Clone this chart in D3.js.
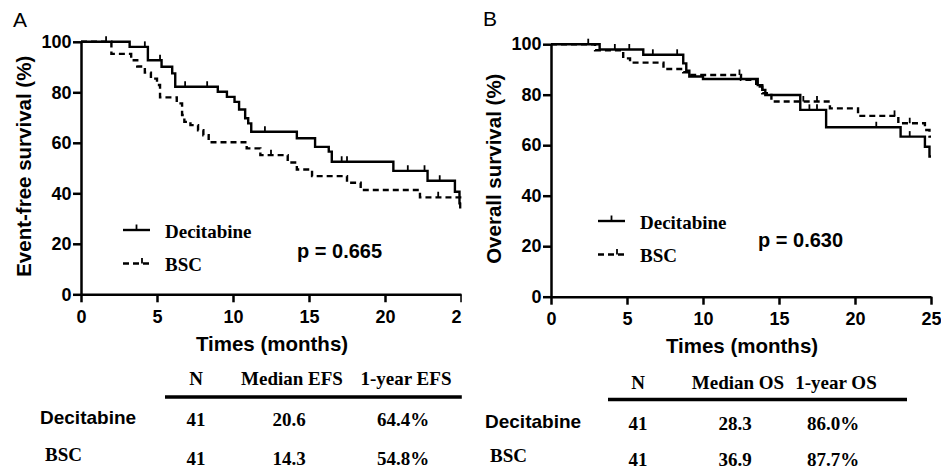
<!DOCTYPE html>
<html>
<head>
<meta charset="utf-8">
<script src="https://cdn.jsdelivr.net/npm/d3@7"></script>
<style>
  body { margin: 0; background: #fff; }
  svg { display: block; }
  .sans { font-family: "Liberation Sans", Arial, sans-serif; font-weight: bold; }
  .serif { font-family: "Liberation Serif", "Times New Roman", serif; font-weight: bold; }
</style>
</head>
<body>
<svg id="chart" width="941" height="470"></svg>
<script>
// survival steps: [month, percent]
var efsDecitabine = [[0,100],[3.2,98.0],[4.4,92.7],[5.3,90.1],[6.0,87.5],[6.2,82.2],[9.0,80.2],[9.6,78.2],[10.1,76.2],[10.4,73.2],[10.8,69.7],[11.0,67.7],[11.2,64.4],[14.2,61.8],[15.4,58.4],[16.3,56.5],[16.5,52.5],[20.55,48.9],[22.8,45.0],[24.6,40.6],[24.9,36.0],[25,36.0]];
var efsBsc = [[0,100],[2.0,95.2],[3.3,92.7],[3.7,90.2],[4.2,87.8],[4.6,85.4],[5.0,82.9],[5.2,78.0],[6.3,75.6],[6.65,71.0],[6.8,68.3],[7.2,67.0],[7.7,65.0],[8.05,63.0],[8.4,60.2],[10.9,57.8],[11.8,55.1],[13.6,52.2],[14.2,49.4],[15.2,46.8],[17.5,44.2],[18.4,41.3],[22.3,38.4],[24.95,32.8],[25,32.8]];
var osDecitabine = [[0,100],[3.2,97.9],[6.07,95.8],[8.7,92.4],[8.9,89.5],[9.1,87.2],[10.0,86.2],[13.6,83.8],[13.9,81.9],[14.1,79.9],[16.4,74.0],[18.1,67.1],[23.0,63.4],[24.6,59.4],[24.9,55.5],[25,55.5]];
var osBsc = [[0,100],[2.9,97.6],[4.75,94.4],[5.2,92.7],[7.4,90.2],[8.7,88.9],[9.0,87.8],[12.5,85.9],[13.5,83.2],[13.9,80.6],[14.5,77.3],[18.35,74.6],[20.2,71.6],[22.85,68.7],[24.6,66.0],[24.9,63.4],[25,63.4]];

// censor times (months)
var efsDecitabineCensor = [4.2, 5.2, 6.85, 8.3, 12.1, 17.15, 17.5, 21.5, 22.6, 23.6];
var efsBscCensor = [1.65, 12.5, 23.5];
var osDecitabineCensor = [4.2, 5.15, 6.7, 8.3, 17.0, 17.5, 21.4, 23.6];
var osBscCensor = [2.45, 12.4, 16.6, 17.5, 22.6, 23.6];

var xTicks = [0, 5, 10, 15, 20, 25];
var yTicks = [0, 20, 40, 60, 80, 100];
var groups = ["Decitabine", "BSC"];

var efsHeader = ["N", "Median EFS", "1-year EFS"];
var efsRows = [["41", "20.6", "64.4%"], ["41", "14.3", "54.8%"]];
var osHeader = ["N", "Median OS", "1-year OS"];
var osRows = [["41", "28.3", "86.0%"], ["41", "36.9", "87.7%"]];

var svg = d3.select("#chart");

// left figure is cut at its right edge in the original
svg.append("defs").append("clipPath").attr("id", "clipA")
  .append("rect").attr("x", 0).attr("y", 0).attr("width", 461.8).attr("height", 470);

function stepAt(data, t) {
  var s = data[0][1];
  data.forEach(function(d){ if (d[0] <= t) s = d[1]; });
  return s;
}

function drawPanel(p) {
  var g = svg.append("g").attr("clip-path", p.clip ? "url(#" + p.clip + ")" : null);

  var x = d3.scaleLinear().domain([0, 25]).range([p.left, p.left + 380]);
  var y = d3.scaleLinear().domain([0, 100]).range([p.bottom, p.bottom - 252.5]);

  // panel letter
  g.append("text").attr("class", "sans").style("font-weight", "normal")
    .attr("x", p.left - 68).attr("y", p.letterY)
    .attr("font-size", 21).text(p.letter);

  // axes
  var ya = g.append("g").attr("transform", "translate(" + p.left + ",0)")
    .call(d3.axisLeft(y).tickValues(yTicks).tickSize(8).tickSizeOuter(0).tickPadding(1.5));
  var xa = g.append("g").attr("transform", "translate(0," + p.bottom + ")")
    .call(d3.axisBottom(x).tickValues(xTicks).tickSize(8).tickSizeOuter(0).tickPadding(7.5));
  [ya, xa].forEach(function(a){
    a.selectAll("path, line").attr("stroke", "#000").attr("stroke-width", 2.5);
    a.selectAll("text").attr("class", "sans").attr("font-size", 18).attr("fill", "#000");
  });

  // axis titles
  g.append("text").attr("class", "sans").attr("font-size", 20.5)
    .attr("text-anchor", "middle")
    .attr("transform", "translate(" + (p.left - 50) + "," + (p.bottom - 128) + ") rotate(-90)")
    .text(p.yTitle);
  g.append("text").attr("class", "sans").attr("font-size", 20.5)
    .attr("text-anchor", "middle")
    .attr("x", p.left + 191).attr("y", p.bottom + 56.5)
    .text("Times (months)");

  // curves
  var line = d3.line().curve(d3.curveStepAfter)
    .x(function(d){ return x(d[0]); })
    .y(function(d){ return y(d[1]); });

  var series = [
    { data: p.dec, censor: p.decCensor, dash: null },
    { data: p.bsc, censor: p.bscCensor, dash: "6,4" }
  ];
  series.forEach(function(s){
    g.append("path").datum(s.data)
      .attr("d", line)
      .attr("fill", "none").attr("stroke", "#000").attr("stroke-width", 2.4)
      .attr("stroke-dasharray", s.dash);
    g.selectAll(null).data(s.censor).enter().append("line")
      .attr("x1", function(t){ return x(t); }).attr("x2", function(t){ return x(t); })
      .attr("y1", function(t){ return y(stepAt(s.data, t)); })
      .attr("y2", function(t){ return y(stepAt(s.data, t)) - 5.5; })
      .attr("stroke", "#000").attr("stroke-width", 1.8);
  });

  // legend
  var lg = g.append("g");
  groups.forEach(function(name, i){
    var ly = p.legendY + i * 33.5;
    lg.append("line").attr("x1", p.legendX).attr("x2", p.legendX + 27)
      .attr("y1", ly).attr("y2", ly)
      .attr("stroke", "#000").attr("stroke-width", 2.4)
      .attr("stroke-dasharray", i ? "6,4" : null);
    var tx = p.legendX + (i ? 19 : 13.5);
    lg.append("line").attr("x1", tx).attr("x2", tx).attr("y1", ly).attr("y2", ly - 5.5)
      .attr("stroke", "#000").attr("stroke-width", 1.8);
    lg.append("text").attr("class", "serif").attr("font-size", 19)
      .attr("x", p.legendX + 42).attr("y", ly + 7.5).text(name);
  });

  g.append("text").attr("class", "sans").attr("font-size", 20)
    .attr("x", p.pX).attr("y", p.pY).text(p.pText);

  // summary table
  var tg = g.append("g");
  tg.selectAll(null).data(p.header).enter().append("text")
    .attr("class", "serif").attr("font-size", 19).attr("text-anchor", "middle")
    .attr("x", function(d, i){ return p.cols[i]; })
    .attr("y", p.tableTop).text(function(d){ return d; });
  tg.append("line").attr("x1", p.ruleX[0]).attr("x2", p.ruleX[1])
    .attr("y1", p.tableTop + p.ruleGap).attr("y2", p.tableTop + p.ruleGap)
    .attr("stroke", "#000").attr("stroke-width", 3.5);
  p.rows.forEach(function(row, r){
    var ry = p.tableTop + 41 + r * p.rowGap;
    tg.append("text").attr("class", r ? "serif" : "sans").attr("font-size", 19)
      .attr("x", p.rowLabelX + r * 5).attr("y", ry - (r ? 4 : 2)).text(groups[r]);
    tg.selectAll(null).data(row).enter().append("text")
      .attr("class", "serif").attr("font-size", 19).attr("text-anchor", "middle")
      .attr("x", function(d, i){ return p.cols[i] + (i ? -3 : 0); })
      .attr("y", ry).text(function(d){ return d; });
  });
}

drawPanel({
  clip: "clipA", letter: "A", letterY: 27, left: 81, bottom: 294.3,
  yTitle: "Event-free survival (%)",
  dec: efsDecitabine, bsc: efsBsc, decCensor: efsDecitabineCensor, bscCensor: efsBscCensor,
  legendX: 123, legendY: 230, pX: 297, pY: 258, pText: "p = 0.665",
  header: efsHeader, rows: efsRows, cols: [196, 292, 406], ruleX: [165, 462],
  tableTop: 385, ruleGap: 12, rowGap: 39, rowLabelX: 40
});

drawPanel({
  clip: null, letter: "B", letterY: 26, left: 551, bottom: 296.7,
  yTitle: "Overall survival (%)",
  dec: osDecitabine, bsc: osBsc, decCensor: osDecitabineCensor, bscCensor: osBscCensor,
  legendX: 598, legendY: 221, pX: 758, pY: 247, pText: "p = 0.630",
  header: osHeader, rows: osRows, cols: [638, 738, 836], ruleX: [608, 907],
  tableTop: 389, ruleGap: 10.5, rowGap: 36, rowLabelX: 485
});
</script>
</body>
</html>
